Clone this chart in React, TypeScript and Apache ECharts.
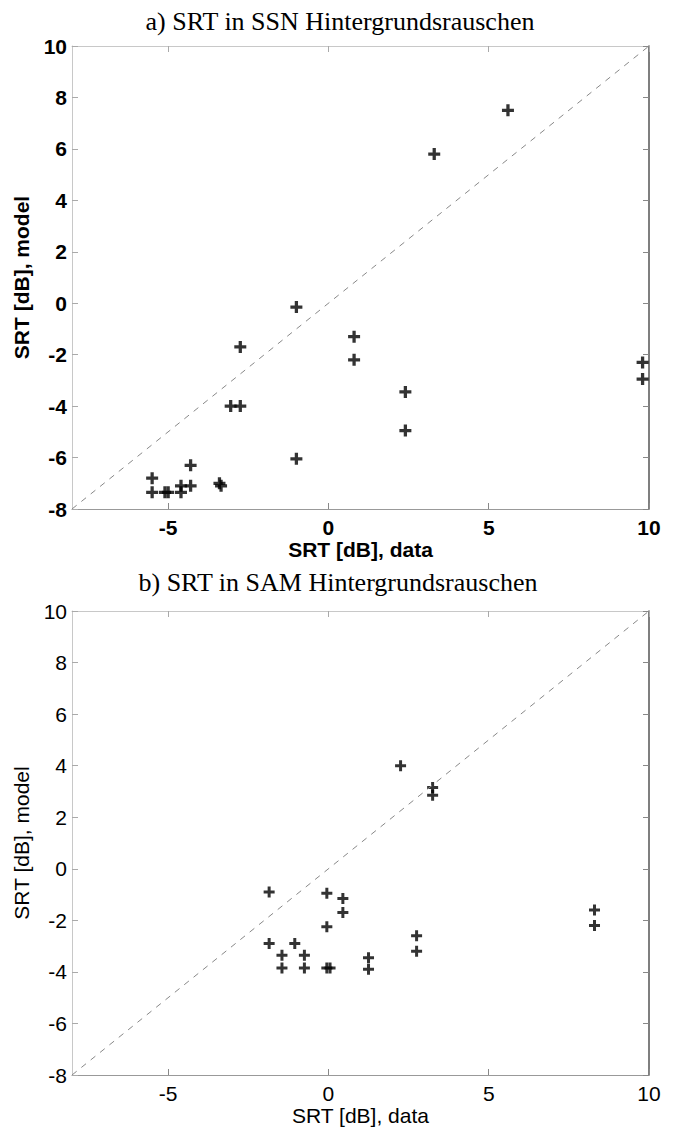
import React, { useEffect, useRef } from "react";
import * as echarts from "echarts";

// a) SSN
const ssnX: number[] = [-2.75, 0.8, 0.8, -3.05, -2.75, -1.0, -4.3, -5.5, -5.5, -5.1, -5.0, -4.6, -4.6, -4.3, -3.4, -3.35, 2.4, 2.4, 9.8, 9.8, 5.6, 3.3, -1.0];
const ssnY: number[] = [-1.7, -1.3, -2.2, -4.0, -4.0, -6.05, -6.3, -6.8, -7.35, -7.35, -7.35, -7.1, -7.35, -7.1, -7.0, -7.1, -3.45, -4.95, -2.3, -2.95, 7.5, 5.8, -0.15];
// b) SAM
const samX: number[] = [-1.85, -0.05, 0.45, 0.45, -0.05, -1.85, -1.05, -1.45, -0.75, -1.45, -0.75, -0.05, 0.05, 1.25, 1.25, 2.25, 3.25, 3.25, 8.3, 8.3, 2.75, 2.75];
const samY: number[] = [-0.9, -0.95, -1.15, -1.7, -2.25, -2.9, -2.9, -3.35, -3.35, -3.85, -3.85, -3.85, -3.85, -3.45, -3.9, 4.0, 3.15, 2.85, -1.6, -2.2, -2.6, -3.2];

const diagonal: number[][] = [[-8, -8], [10, 10]];
const xTicks: number[] = [-5, 0, 5, 10];
const titles: string[] = ["a) SRT in SSN Hintergrundsrauschen", "b) SRT in SAM Hintergrundsrauschen"];
const xName = "SRT [dB], data";
const yName = "SRT [dB], model";

const PLUS = "path://M4,0H7V4H11V7H7V11H4V7H0V4H4Z";

export default function App() {
  const ref = useRef<HTMLDivElement>(null);
  useEffect(() => {
    if (!ref.current) return;
    const chart = echarts.init(ref.current, undefined, { renderer: "svg" });
    const grids = [
      { left: 72, top: 46, width: 577, height: 463 },
      { left: 72, top: 611, width: 577, height: 464 },
    ];
    const bold = [true, false];
    const xAxes: any[] = [];
    const yAxes: any[] = [];
    grids.forEach((g, i) => {
      const fw = bold[i] ? "bold" : "normal";
      xAxes.push({
        gridIndex: i, type: "value", min: -8, max: 10, position: "bottom",
        name: xName, nameLocation: "middle", nameGap: 30,
        nameTextStyle: { fontFamily: "Liberation Sans, Arial", fontSize: 21, fontWeight: fw, color: "#000" },
        axisLine: { onZero: false, lineStyle: { color: "#999", width: 1 } },
        axisTick: { inside: true, length: 6, customValues: xTicks, lineStyle: { color: "#888" } },
        axisLabel: { customValues: xTicks, fontFamily: "Liberation Sans, Arial", fontSize: 21, fontWeight: fw, color: "#000", margin: 8 },
        splitLine: { show: false },
      });
      xAxes.push({
        gridIndex: i, type: "value", min: -8, max: 10, position: "top",
        axisLine: { onZero: false, lineStyle: { color: "#c8c8c8", width: 1 } },
        axisTick: { inside: true, length: 6, customValues: xTicks, lineStyle: { color: "#aaa" } },
        axisLabel: { show: false },
        splitLine: { show: false },
      });
      yAxes.push({
        gridIndex: i, type: "value", min: -8, max: 10, interval: 2, position: "left",
        name: yName, nameLocation: "middle", nameGap: 40, nameRotate: 90,
        nameTextStyle: { fontFamily: "Liberation Sans, Arial", fontSize: 21, fontWeight: fw, color: "#000" },
        axisLine: { onZero: false, lineStyle: { color: "#c8c8c8", width: 1 } },
        axisTick: { inside: true, length: 6, lineStyle: { color: "#aaa" } },
        axisLabel: { fontFamily: "Liberation Sans, Arial", fontSize: 21, fontWeight: fw, color: "#000", margin: 5 },
        splitLine: { show: false },
      });
      yAxes.push({
        gridIndex: i, type: "value", min: -8, max: 10, interval: 2, position: "right",
        axisLine: { onZero: false, lineStyle: { color: "#555", width: 1.5 } },
        axisTick: { inside: true, length: 6, lineStyle: { color: "#888" } },
        axisLabel: { show: false },
        splitLine: { show: false },
      });
    });
    const series: any[] = [];
    [[ssnX, ssnY], [samX, samY]].forEach(([xs, ys], i) => {
      series.push({
        type: "line", xAxisIndex: i * 2, yAxisIndex: i * 2, data: diagonal,
        showSymbol: false, symbol: "none", silent: true,
        lineStyle: { color: "#888", width: 1, type: [6, 6] },
      });
      series.push({
        type: "scatter", xAxisIndex: i * 2, yAxisIndex: i * 2,
        data: xs.map((x, k) => [x, ys[k]]),
        symbol: PLUS, symbolSize: i === 0 ? 12 : 11,
        itemStyle: { color: "#000" },
      });
    });
    chart.setOption({
      animation: false,
      backgroundColor: "#fff",
      grid: grids,
      xAxis: xAxes,
      yAxis: yAxes,
      series,
      graphic: [
        { type: "text", x: 340, y: 21, style: { text: titles[0], font: '26px "Liberation Serif"', fill: "#000", textAlign: "center", textVerticalAlign: "middle" } },
        { type: "text", x: 338, y: 582, style: { text: titles[1], font: '26px "Liberation Serif"', fill: "#000", textAlign: "center", textVerticalAlign: "middle" } },
      ],
    });
    return () => chart.dispose();
  }, []);
  return <div ref={ref} style={{ position: "absolute", left: 0, top: 0, width: 680, height: 1129 }} />;
}
